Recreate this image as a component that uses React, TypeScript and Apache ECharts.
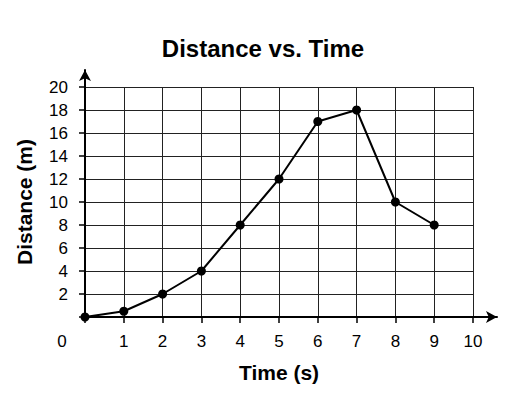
import React, { useEffect, useRef } from "react";
import * as echarts from "echarts";

const times = [0, 1, 2, 3, 4, 5, 6, 7, 8, 9];
const distances = [0, 0.5, 2, 4, 8, 12, 17, 18, 10, 8];
const titleText = "Distance vs. Time";
const xName = "Time (s)";
const yName = "Distance (m)";

const FONT = "'Liberation Sans', Arial, Helvetica, sans-serif";

export default function App() {
  const ref = useRef<HTMLDivElement>(null);
  useEffect(() => {
    if (!ref.current) return;
    const chart = echarts.init(ref.current, null, { renderer: "svg" });
    const arrowAxisLine = {
      show: true,
      lineStyle: { color: "#000", width: 2 },
      symbol: ["none", "arrow"],
      symbolSize: [9, 11],
    };
    chart.setOption({
      animation: false,
      backgroundColor: "#fff",
      title: {
        text: titleText,
        left: "center",
        top: 31,
        textStyle: { fontFamily: FONT, fontSize: 24, fontWeight: "bold", color: "#000" },
      },
      grid: [
        { left: 85, right: 53, top: 87, bottom: 88, containLabel: false },
        { left: 85, right: 29, top: 70, bottom: 88, containLabel: false },
      ],
      xAxis: [
        {
          gridIndex: 0,
          type: "value",
          min: 0,
          max: 10,
          interval: 1,
          name: xName,
          nameLocation: "middle",
          nameGap: 45,
          nameTextStyle: { fontFamily: FONT, fontSize: 21, fontWeight: "bold", color: "#000" },
          axisLine: { show: false },
          axisTick: { show: true, length: 6, lineStyle: { color: "#000", width: 1.5 } },
          axisLabel: {
            margin: 16,
            fontFamily: FONT,
            fontSize: 17,
            color: "#000",
            formatter: (v: number) => (v === 0 ? "{z|0}" : String(v)),
            rich: { z: { fontFamily: FONT, fontSize: 17, color: "#000", padding: [0, 46, 0, 0] } },
          },
          splitLine: { show: true, lineStyle: { color: "#222", width: 1 } },
        },
        {
          gridIndex: 1,
          type: "value",
          min: 0,
          max: 10,
          axisLine: arrowAxisLine,
          axisTick: { show: false },
          axisLabel: { show: false },
          splitLine: { show: false },
        },
      ],
      yAxis: [
        {
          gridIndex: 0,
          type: "value",
          min: 0,
          max: 20,
          interval: 2,
          name: yName,
          nameLocation: "middle",
          nameGap: 50,
          nameTextStyle: { fontFamily: FONT, fontSize: 21, fontWeight: "bold", color: "#000" },
          axisLine: { show: false },
          axisTick: { show: true, length: 6, lineStyle: { color: "#000", width: 1.5 } },
          axisLabel: {
            margin: 17,
            fontFamily: FONT,
            fontSize: 17,
            color: "#000",
            formatter: (v: number) => (v === 0 ? "" : String(v)),
          },
          splitLine: { show: true, lineStyle: { color: "#222", width: 1 } },
        },
        {
          gridIndex: 1,
          type: "value",
          min: 0,
          max: 20,
          axisLine: arrowAxisLine,
          axisTick: { show: false },
          axisLabel: { show: false },
          splitLine: { show: false },
        },
      ],
      series: [
        {
          type: "line",
          xAxisIndex: 0,
          yAxisIndex: 0,
          data: times.map((t, i) => [t, distances[i]]),
          symbol: "circle",
          symbolSize: 9,
          itemStyle: { color: "#000" },
          lineStyle: { color: "#000", width: 2 },
          z: 5,
        },
      ],
    });
    return () => chart.dispose();
  }, []);
  return (
    <div
      ref={ref}
      style={{ position: "fixed", left: 0, top: 0, width: 526, height: 405 }}
    />
  );
}
